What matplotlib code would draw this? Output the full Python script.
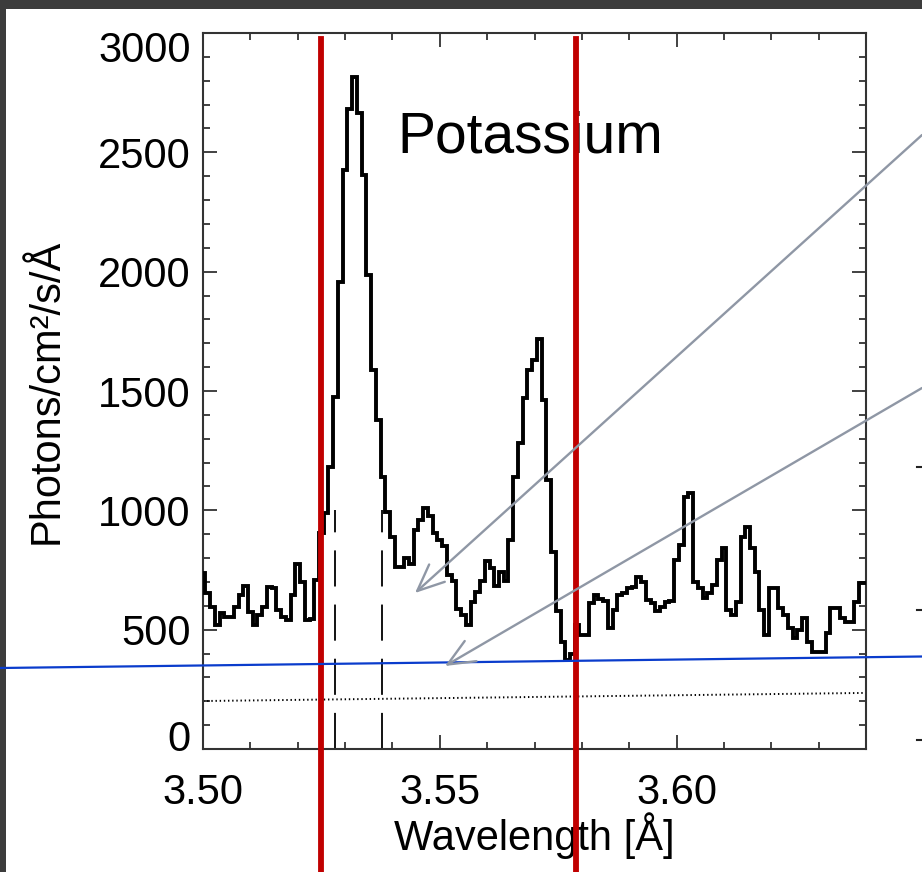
import numpy as np
import matplotlib
matplotlib.use("Agg")
import matplotlib.pyplot as plt
from matplotlib.lines import Line2D
from matplotlib.patches import Rectangle, FancyArrowPatch
from matplotlib.ticker import MultipleLocator, FixedLocator
from matplotlib.transforms import ScaledTranslation

plt.rcParams['font.family'] = ['Liberation Sans', 'DejaVu Sans']
plt.rcParams['lines.scale_dashes'] = False

# ---------------- data ----------------
wavelength = np.round(3.500 + 0.001 * np.arange(141), 3)   # bin centres [Å]
flux = [
    736, 652, 596, 519, 568, 554, 554, 596, 645, 685,
    575, 519, 561, 596, 680, 673, 582, 554, 540, 645,
    775, 700, 540, 545, 708, 905, 988, 1182, 1476, 1958,
    2425, 2680, 2817, 2663, 2405, 1986, 1588, 1378, 1141, 994,
    889, 764, 764, 800, 775, 917, 959, 1009, 975, 905,
    875, 850, 729, 705, 585, 561, 519, 617, 659, 704,
    788, 758, 684, 743, 705, 875, 1141, 1281, 1469, 1590,
    1630, 1716, 1462, 1127, 824, 580, 450, 373, 400, 519,
    478, 478, 610, 645, 630, 620, 506, 582, 645, 655,
    673, 680, 722, 698, 624, 610, 578, 596, 617, 620,
    792, 855, 1057, 1071, 700, 673, 631, 652, 687, 792,
    841, 582, 561, 617, 889, 931, 841, 743, 582, 478,
    673, 673, 589, 561, 506, 464, 500, 548, 450, 408,
    408, 408, 485, 589, 589, 548, 533, 533, 617, 694,
    694,
]
background_x = [3.500, 3.640]
background_y = [201, 235]
dashed_x = [3.5279, 3.5379]
dashed_top = 1000
red_x = [3.5249, 3.5788]
xticks = [3.50, 3.55, 3.60]
xtick_labels = ["3.50", "3.55", "3.60"]
yticks = [0, 500, 1000, 1500, 2000, 2500, 3000]
title_text = "Potassium"
xlabel = "Wavelength [Å]"
ylabel = "Photons/cm²/s/Å"

W, H = 922, 872
fig = plt.figure(figsize=(W / 100, H / 100), dpi=100)
fig.patch.set_facecolor('white')

def fx(px):
    return px / W

def fy(py):
    return 1 - py / H

# slide frame (dark bands)
fig.add_artist(Rectangle((0, fy(9)), 1, 9 / H, transform=fig.transFigure,
                         facecolor='#3c3c3c', edgecolor='none', zorder=0))
fig.add_artist(Rectangle((0, 0), 6 / W, 1, transform=fig.transFigure,
                         facecolor='#3c3c3c', edgecolor='none', zorder=0))

ax = fig.add_axes([fx(203), fy(749), (866 - 203) / W, (749 - 33) / H])
ax.set_xlim(3.50, 3.64)
ax.set_ylim(0, 3000)

edges = np.concatenate([wavelength - 0.0005, [wavelength[-1] + 0.0005]])
ax.stairs(flux, edges, baseline=None, color='black', lw=2.8, zorder=3)

ax.plot(background_x, background_y, color='black', lw=1.4,
        linestyle=(0, (1.0, 2.0)), zorder=2)
for xd in dashed_x:
    ax.plot([xd, xd], [0, dashed_top], color='black', lw=1.3,
            dashes=(26, 13), zorder=2)

ax.text(3.54095, 2498, title_text, fontsize=41, ha='left', va='baseline',
        color='black', zorder=4)

ax.xaxis.set_major_locator(FixedLocator(xticks))
ax.set_xticklabels(xtick_labels)
ax.xaxis.set_minor_locator(MultipleLocator(0.01))
ax.set_yticks(yticks)
ax.yaxis.set_minor_locator(MultipleLocator(100))
ax.tick_params(which='both', direction='in', top=True, right=True,
               color='#333333', width=1.3, labelsize=30)
ax.tick_params(which='major', length=10)
ax.tick_params(which='minor', length=5)
ax.tick_params(axis='x', which='major', pad=17)
ax.tick_params(axis='y', which='major', pad=9)
for s in ax.spines.values():
    s.set_color('#333333')
    s.set_linewidth(1.5)

# the end labels of the y axis sit slightly inside the range (as in the original)
yt = ax.yaxis.get_major_ticks()
yt[0].label1.set_transform(yt[0].label1.get_transform()
                           + ScaledTranslation(0, 14 / 72 * 0.72 * 100 / 100, fig.dpi_scale_trans))
yt[-1].label1.set_transform(yt[-1].label1.get_transform()
                            + ScaledTranslation(0, -13 / 72 * 0.72 * 100 / 100, fig.dpi_scale_trans))

ax.set_xlabel(xlabel, fontsize=30, va='baseline')
ax.xaxis.set_label_coords(0.5, (749 - 850) / 716)
ax.set_ylabel(ylabel, fontsize=30, va='center')
ax.yaxis.set_label_coords((47 - 203) / 663, 0.5)

# red vertical markers (extend beyond the axes to the slide bottom)
for xr in red_x:
    ax.axvline(xr, ymin=(749 - 872) / 716, ymax=(749 - 39) / 716,
               color='#c00000', lw=4.2, clip_on=False, zorder=6)

# slide overlays: blue line and gray arrows
fig.add_artist(Line2D([fx(0), fx(922)], [fy(668), fy(656.5)],
                      transform=fig.transFigure, color='#0a3ccc', lw=1.6, zorder=7))
for (x0, y0), (x1, y1) in [((922, 135), (415, 593)), ((922, 388), (445, 666))]:
    fig.add_artist(FancyArrowPatch((fx(x0), fy(y0)), (fx(x1), fy(y1)),
                                   transform=fig.transFigure,
                                   arrowstyle='->,head_length=1.6,head_width=0.7',
                                   mutation_scale=12, color='#8f97a5', lw=1.7,
                                   shrinkA=0, shrinkB=0, zorder=7))
# tick marks of the neighbouring (cut-off) chart
for ym in [467, 610, 740]:
    fig.add_artist(Line2D([fx(917), fx(922)], [fy(ym), fy(ym)],
                          transform=fig.transFigure, color='#222222', lw=1.5))

fig.savefig('out.png', dpi=100, facecolor=fig.get_facecolor())
